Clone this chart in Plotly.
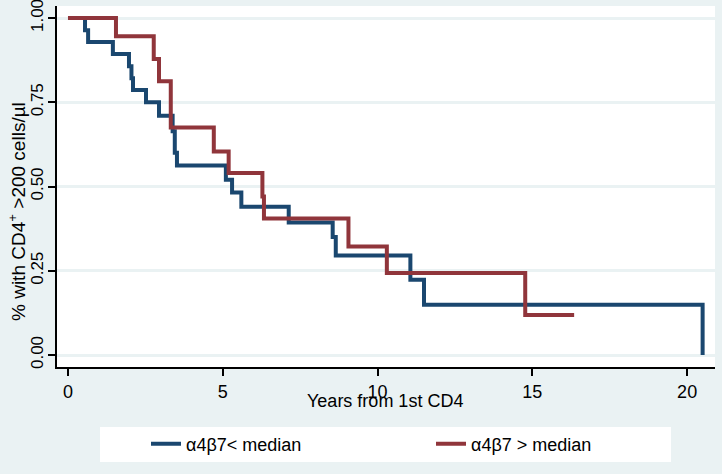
import plotly.graph_objects as go

# Kaplan-Meier step data
low_t = [0, 0.55, 0.65, 1.45, 1.97, 2.05, 2.1, 2.52, 2.94, 3.38, 3.45, 3.52,
         5.1, 5.3, 5.6, 7.13, 8.55, 8.65, 11.06, 11.5, 20.5]
low_s = [1.0, 0.964, 0.929, 0.893, 0.857, 0.821, 0.786, 0.75, 0.71, 0.664, 0.60, 0.562,
         0.52, 0.482, 0.44, 0.393, 0.35, 0.295, 0.223, 0.149, 0.0]

high_t = [0, 1.55, 2.77, 2.94, 3.32, 4.71, 5.19, 6.28, 6.33, 9.06, 10.3, 14.77, 16.35]
high_s = [1.0, 0.946, 0.878, 0.8125, 0.675, 0.604, 0.54, 0.47, 0.405, 0.322, 0.243, 0.119, 0.119]

x_ticks = [0, 5, 10, 15, 20]
y_ticks = [0, 0.25, 0.5, 0.75, 1.0]
y_tick_labels = ["0.00", "0.25", "0.50", "0.75", "1.00"]

BLUE = "#1a476f"
RED = "#90353b"
BG = "#eaf2f3"
FONT = "Liberation Sans, Arial, sans-serif"

fig = go.Figure()
fig.add_trace(go.Scatter(x=low_t, y=low_s, mode="lines", line=dict(color=BLUE, width=4, shape="hv"),
                         name="α4β7< median"))
fig.add_trace(go.Scatter(x=high_t, y=high_s, mode="lines", line=dict(color=RED, width=4, shape="hv"),
                         name="α4β7 > median"))

W, H = 722, 474
L, R, T, B = 57, 7, 6, 107
pw, ph = W - L - R, H - T - B

def px_x(px):
    return (px - L) / pw

def px_y(py):
    return (H - B - py) / ph

# legend backdrop
fig.add_shape(type="rect", xref="paper", yref="paper",
              x0=px_x(100), x1=px_x(671), y0=px_y(462), y1=px_y(427),
              fillcolor="white", line=dict(width=0), layer="below")

fig.add_annotation(text="Years from 1st CD4", xref="paper", yref="paper",
                   x=px_x(385), y=px_y(401), showarrow=False, xanchor="center", yanchor="middle",
                   font=dict(family=FONT, size=18, color="black"))
fig.add_annotation(text="% with CD4<sup>+</sup> >200 cells/µl", xref="paper", yref="paper",
                   x=px_x(17), y=px_y(212), showarrow=False, xanchor="center", yanchor="middle",
                   textangle=-90, font=dict(family=FONT, size=19, color="black"))

fig.update_layout(
    width=W, height=H,
    margin=dict(l=L, r=R, t=T, b=B, autoexpand=False),
    paper_bgcolor=BG, plot_bgcolor="white",
    font=dict(family=FONT, size=18, color="black"),
    showlegend=True,
    legend=dict(orientation="h", x=px_x(146), y=px_y(444), xanchor="left", yanchor="middle",
                bgcolor="rgba(0,0,0,0)", entrywidth=240, entrywidthmode="pixels",
                font=dict(family=FONT, size=18, color="black"), traceorder="normal"),
    xaxis=dict(range=[-0.355, 20.9], tickvals=x_ticks, ticks="outside", ticklen=7, tickwidth=2,
               tickcolor="black", showline=True, linecolor="black", linewidth=2,
               showgrid=False, zeroline=False, ticklabelstandoff=0, automargin=False,
               tickfont=dict(family=FONT, size=18, color="black")),
    yaxis=dict(range=[-0.0356, 1.0356], tickvals=y_ticks, ticktext=y_tick_labels,
               ticks="outside", ticklen=7, tickwidth=2, tickcolor="black",
               showline=True, linecolor="black", linewidth=2, tickangle=-90,
               ticklabelstandoff=-2, ticklabeloverflow="allow", automargin=False,
               showgrid=True, gridcolor=BG, gridwidth=3, zeroline=False,
               tickfont=dict(family=FONT, size=17, color="black")),
)

fig.write_html("out.html", config={"responsive": False, "displayModeBar": False},
               post_script="document.body.style.margin='0';document.body.style.background='#eaf2f3';")
